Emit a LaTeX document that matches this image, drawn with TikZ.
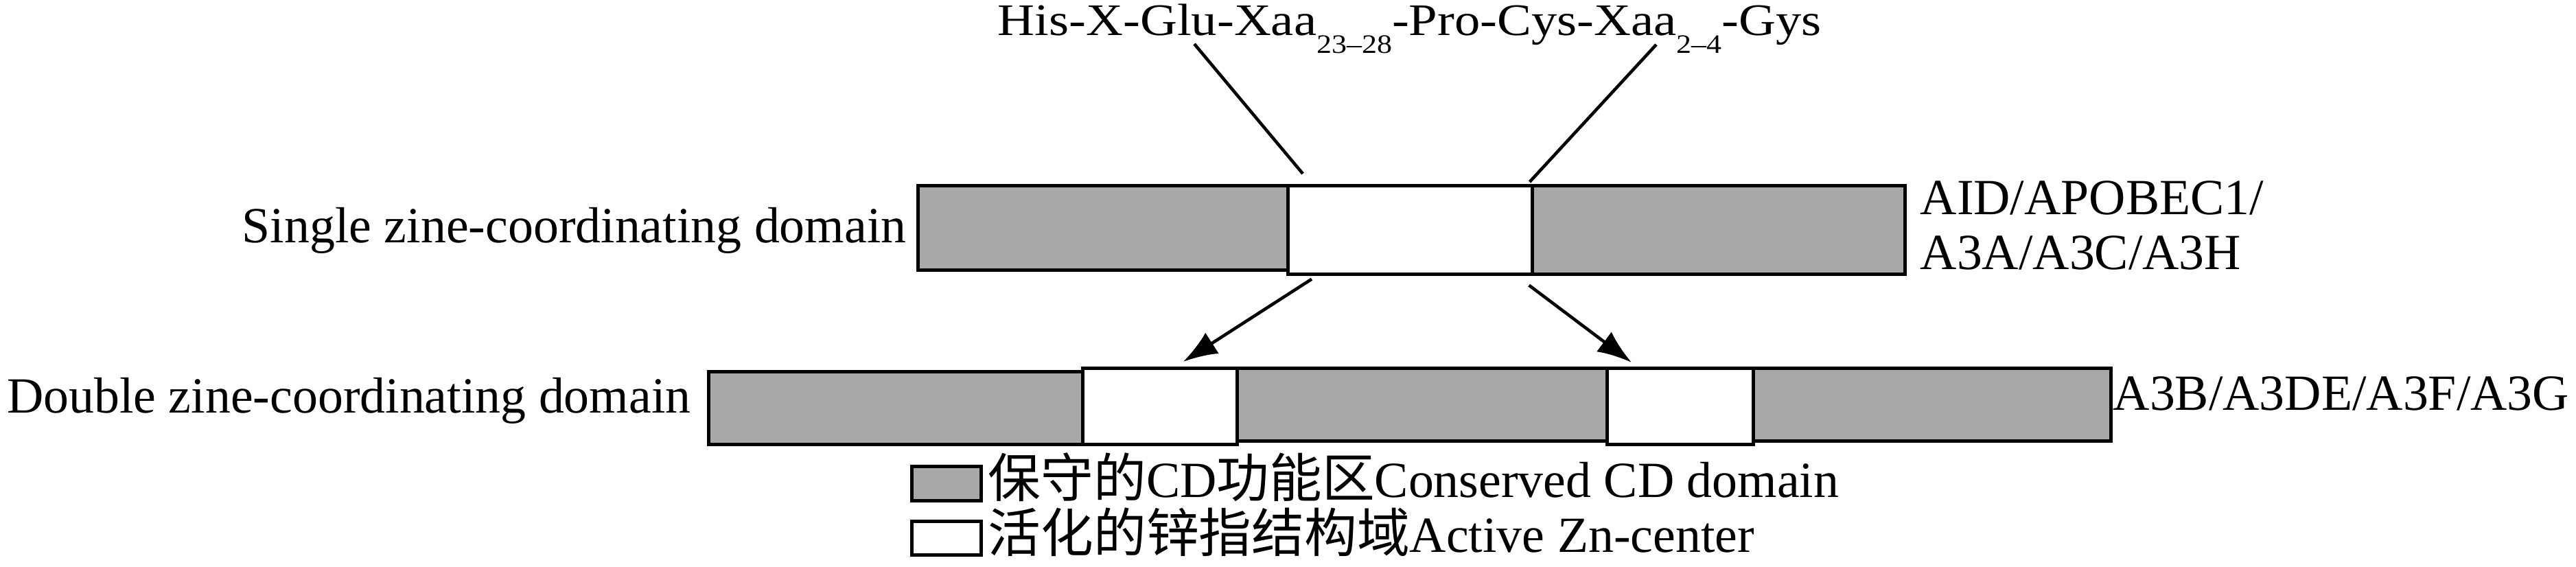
\documentclass[tikz,border=0pt]{standalone}
\usepackage{fontspec}
\setmainfont{Liberation Serif}
\newfontfamily\cjk{Noto Sans CJK SC}[Scale=1.04]
\usetikzlibrary{arrows.meta}
\definecolor{cdgray}{RGB}{168,168,168}
\newcommand{\lowsub}[1]{\raisebox{-0.23cm}{\fontsize{10}{11}\selectfont #1}}

\begin{document}
\begin{tikzpicture}[
  font=\fontsize{21}{25}\selectfont,
  cd/.style={draw, line width=1.3pt, fill=cdgray, inner sep=0pt, anchor=north west},
  zn/.style={draw, line width=1.3pt, fill=white, inner sep=0pt, anchor=north west},
  lbl/.style={inner sep=0pt},
  ]
\useasboundingbox (0,0) rectangle (37.53,8.26);

%% single domain
\node[cd, minimum width=5.39cm, minimum height=1.23cm] (cdA) at (13.35,5.58) {};   %% left
\node[cd, minimum width=5.43cm, minimum height=1.29cm] (cdB) at (22.30,5.58) {};   %% right
\node[zn, minimum width=3.56cm, minimum height=1.29cm] (znA) at (18.74,5.58) {};   %% centre

%% double domain
\node[cd, minimum width=5.45cm, minimum height=1.06cm] (cdC) at (10.30,2.87) {};
\node[cd, minimum width=5.39cm, minimum height=1.06cm] (cdD) at (18.00,2.92) {};
\node[cd, minimum width=5.21cm, minimum height=1.06cm] (cdE) at (25.52,2.92) {};
\node[zn, minimum width=2.25cm, minimum height=1.11cm] (znB) at (15.75,2.92) {};
\node[zn, minimum width=2.13cm, minimum height=1.11cm] (znC) at (23.39,2.92) {};

%% legend keys
\node[cd, minimum width=1.01cm, minimum height=0.50cm] (keyCD) at (13.26,1.49) {};
\node[zn, minimum width=1.01cm, minimum height=0.49cm] (keyZn) at (13.26,0.69) {};

%% labels
\node[lbl, anchor=base east] (single) at (13.21,4.72) {Single zine-coordinating domain};
\node[lbl, anchor=base east] (double) at (10.07,2.24) {Double zine-coordinating domain};
\node[lbl, anchor=base west] (famA) at (27.97,5.13) {AID/APOBEC1/};
\node[lbl, anchor=base west] (famB) at (27.97,4.33) {A3A/A3C/A3H};
\node[lbl, anchor=base west] (famC) at (30.78,2.28) {A3B/A3DE/A3F/A3G};
\node[lbl, anchor=base west] (motif) at (14.53,7.74)
  {\scalebox{1.25}[1.1]{\fontsize{17}{20}\selectfont His-X-Glu-Xaa\lowsub{23--28}-Pro-Cys-Xaa\lowsub{2--4}-Gys}};
\node[lbl, anchor=base west] (txtCD) at (14.39,1.01) {{\cjk 保守的}CD{\cjk 功能区}Conserved CD domain};
\node[lbl, anchor=base west] (txtZn) at (14.39,0.21) {{\cjk 活化的锌指结构域}Active Zn-center};

%% motif lines
\coordinate (m1) at (17.40,7.62);
\coordinate (m2) at (24.13,7.61);
\draw[line width=1.3pt] (m1) -- ([shift={(0.24,0.15)}]znA.north west);
\draw[line width=1.3pt] (m2) -- ([shift={(-0.06,0.03)}]znA.north east);

%% arrows
\draw[line width=1.3pt, -{Latex[length=0.5cm,width=0.36cm]}] ([shift={(0.37,-0.05)}]znA.south west) -- ([shift={(0.34,0.07)}]znB.north);
\draw[line width=1.3pt, -{Latex[length=0.5cm,width=0.36cm]}] ([shift={(-0.07,-0.14)}]znA.south east) -- ([shift={(0.38,0.06)}]znC.north west);
\end{tikzpicture}
\end{document}
